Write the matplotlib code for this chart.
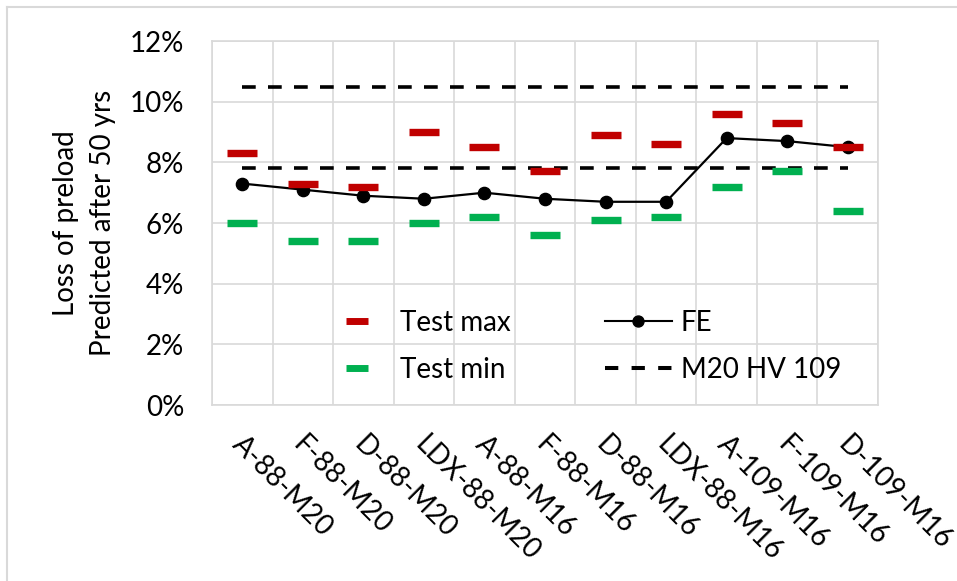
import matplotlib
matplotlib.use("Agg")
import matplotlib.pyplot as plt
import matplotlib.transforms as mtransforms
from matplotlib.lines import Line2D
from matplotlib.ticker import PercentFormatter, MultipleLocator, FixedLocator

plt.rcParams['font.family'] = ['Lato', 'DejaVu Sans']

categories = ['A-88-M20', 'F-88-M20', 'D-88-M20', 'LDX-88-M20', 'A-88-M16',
              'F-88-M16', 'D-88-M16', 'LDX-88-M16', 'A-109-M16', 'F-109-M16',
              'D-109-M16']
test_max = [8.3, 7.3, 7.2, 9.0, 8.5, 7.7, 8.9, 8.6, 9.6, 9.3, 8.5]
test_min = [6.0, 5.4, 5.4, 6.0, 6.2, 5.6, 6.1, 6.2, 7.2, 7.7, 6.4]
fe = [7.3, 7.1, 6.9, 6.8, 7.0, 6.8, 6.7, 6.7, 8.8, 8.7, 8.5]
hv109_limits = [7.8, 10.5]

RED = '#c00000'
GREEN = '#00b050'
GRID = '#d9d9d9'
FS = 20

fig = plt.figure(figsize=(9.57, 5.81), dpi=100)
ax = fig.add_axes([0.2215, 0.3029, 0.696, 0.6265])

x = list(range(len(categories)))

# HV 109 reference levels spanning the categories
for level in hv109_limits:
    ax.plot([x[0], x[-1]], [level, level], color='black', lw=2.6,
            dashes=(3.8, 3.4), solid_capstyle='butt', zorder=3)

ax.plot(x, fe, color='black', lw=1.6, marker='o', markersize=8.8, zorder=4)
ax.plot(x, test_max, linestyle='none', marker='_', markersize=21,
        markeredgewidth=5.3, color=RED, zorder=5)
ax.plot(x, test_min, linestyle='none', marker='_', markersize=21,
        markeredgewidth=5.3, color=GREEN, zorder=5)

ax.set_xlim(-0.5, len(categories) - 0.5)
ax.set_ylim(0, 12)
ax.yaxis.set_major_locator(MultipleLocator(2))
ax.yaxis.set_major_formatter(PercentFormatter(decimals=0))
ax.xaxis.set_minor_locator(FixedLocator([i + 0.5 for i in range(-1, len(categories))]))
ax.set_xticks(x)
ax.set_xticklabels(categories)

ax.grid(True, axis='y', which='major', color=GRID, lw=1.2)
ax.grid(True, axis='x', which='minor', color=GRID, lw=1.2)
ax.set_axisbelow(True)
for sp in ax.spines.values():
    sp.set_color(GRID)
    sp.set_linewidth(1.2)

ax.tick_params(axis='both', which='both', length=0)
ax.tick_params(axis='y', labelsize=FS, pad=20)
ax.tick_params(axis='x', labelsize=FS, pad=19)

offset = mtransforms.ScaledTranslation(4 / 100, 0, fig.dpi_scale_trans)
for lbl in ax.get_xticklabels():
    lbl.set_rotation(-45)
    lbl.set_ha('left')
    lbl.set_va('top')
    lbl.set_rotation_mode('anchor')
    lbl.set_transform(lbl.get_transform() + offset)

ax.set_ylabel('Loss of preload\nPredicted after 50 yrs', fontsize=FS,
              linespacing=1.5, labelpad=10)

handles = [
    Line2D([], [], linestyle='none', marker='_', markersize=15.8,
           markeredgewidth=5.0, color=RED),
    Line2D([], [], linestyle='none', marker='_', markersize=15.8,
           markeredgewidth=5.0, color=GREEN),
    Line2D([], [], color='black', lw=1.5, marker='o', markersize=7.9),
    Line2D([], [], color='black', lw=2.9, dashes=(3.3, 3.3)),
]
labels = ['Test max', 'Test min', 'FE', 'M20 HV 109']
ax.legend(handles, labels, ncol=2, frameon=False, fontsize=FS,
          loc='upper left', bbox_to_anchor=(0.168, 0.261),
          borderaxespad=0, borderpad=0,
          handlelength=2.41, handletextpad=0.32, columnspacing=3.4,
          labelspacing=0.74)

# outer chart border
fig.add_artist(Line2D([7 / 957, 7 / 957], [0, 1 - 7 / 581], color=GRID, lw=1.5))
fig.add_artist(Line2D([7 / 957, 1], [1 - 7 / 581, 1 - 7 / 581], color=GRID, lw=1.5))

fig.savefig('out.png', dpi=100)
